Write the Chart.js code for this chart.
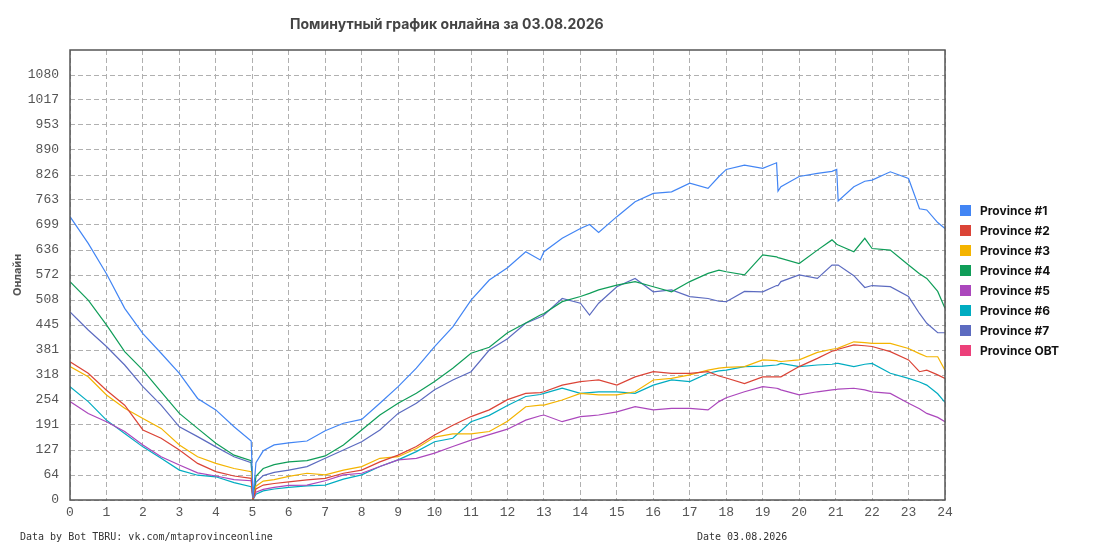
<!DOCTYPE html>
<html>
<head>
<meta charset="utf-8">
<script src="https://cdn.jsdelivr.net/npm/chart.js@4.4.1/dist/chart.umd.min.js"></script>
<style>
  body { margin: 0; background: #fff; }
  #wrap { position: relative; width: 1095px; height: 550px; }
  #chart { position: absolute; left: 0; top: 0; }
  .title { position: absolute; left: 290px; top: 15px; font: bold 14px Inter, sans-serif; color: #444; white-space: nowrap; }
  .item { position: absolute; left: 980px; font: bold 12px Inter, sans-serif; color: #111; white-space: nowrap; line-height: 14px; }
  .box { position: absolute; left: 960px; width: 11px; height: 11px; }
  .foot { position: absolute; top: 531px; font: 10px "DejaVu Sans Mono", monospace; color: #333; white-space: nowrap; }
</style>
</head>
<body>
<div id="wrap">
  <canvas id="chart" width="1095" height="550"></canvas>
  <div class="title">Поминутный график онлайна за 03.08.2026</div>
  <div id="legend"></div>
  <div class="foot" style="left: 20px;">Data by Bot TBRU: vk.com/mtaprovinceonline</div>
  <div class="foot" style="left: 697px;">Date 03.08.2026</div>
</div>
<script>
// time of day, hours
const hours = [0,0.5,1,1.5,2,2.5,3,3.5,4,4.5,4.97,5.02,5.1,5.3,5.6,6,6.5,7,7.5,8,8.5,9,9.5,10,10.5,
  11,11.5,12,12.5,12.9,13,13.5,14,14.25,14.5,15,15.5,16,16.5,17,17.5,17.8,18,18.5,19,
  19.38,19.42,19.5,20,20.5,20.9,21.03,21.07,21.5,21.8,22,22.5,23,23.3,23.5,23.8,24];

const p1 = [720,652,575,487,423,373,322,258,229,186, 150,5,95,125,140, 145,150,176,195,205,246,288,335,390,440,
  508,559,590,631,610, 631,665,690,700,680, 720,758,779,783,805, 792,822,840,851,843,
  857,785,796,822,830, 835,840,760,796,810, 813,834,817,740,737, 705,690];
const p2 = [351,322,279,241,178,157,127,93,72,61, 55,2,28,38,42, 46,51,55,68,76,97,114,136,165,190,
  212,229,255,271,273, 275,292,301,303,305, 292,313,326,322,322, 326,315,310,296,313,
  313,313,313,339,360, 378,381,383,394,392, 390,377,356,326,330, 318,309];
const p3 = [339,313,267,233,207,182,140,110,93,80, 72,2,35,48,52, 60,68,64,76,85,106,110,131,160,168,
  168,174,200,237,241, 241,254,271,269,267, 267,275,305,309,318, 330,335,337,339,356,
  354,353,352,356,375, 383,385,386,402,400, 398,398,385,372,364, 364,330];
const p4 = [555,508,445,377,330,275,220,182,144,114, 100,3,60,80,90, 97,100,112,140,178,216,246,271,301,335,
  373,388,425,450,470, 474,504,517,525,534, 546,555,542,529,555, 576,584,580,572,623,
  618,616,614,601,635, 661,650,648,631,665, 639,635,597,575,563, 530,487];
const p5 = [250,220,199,174,140,110,89,69,61,52, 49,1,20,27,32, 37,38,49,64,68,85,102,106,119,136,
  152,166,180,203,214, 216,199,212,214,216, 224,237,229,233,233, 229,250,260,275,288,
  284,283,280,267,275, 280,281,282,284,280, 275,271,246,232,220, 210,199];
const p6 = [288,250,203,169,135,106,76,63,59,44, 34,1,15,23,28, 32,36,38,53,64,85,102,123,148,157,
  199,215,240,263,268, 271,284,271,273,275, 275,271,292,305,301, 322,328,330,339,340,
  343,344,347,339,343, 345,347,347,339,345, 347,322,309,300,292, 270,248];
const p7 = [478,432,390,343,288,241,186,161,135,110, 95,3,45,62,70, 76,85,106,127,148,178,220,246,280,305,
  326,381,410,449,465, 470,512,500,470,500, 542,563,529,534,517, 512,505,504,530,529,
  545,545,555,572,563, 597,597,597,570,540, 545,542,517,474,449, 425,425];
const pOBT = [];

const names = ['Province #1','Province #2','Province #3','Province #4','Province #5','Province #6','Province #7','Province OBT'];
const colors = ['#4285F4','#DB4437','#F4B400','#0F9D58','#AB47BC','#00ACC1','#5C6BC0','#EC407A'];
const series = [p1, p2, p3, p4, p5, p6, p7, pOBT];

const xTicks = [0,1,2,3,4,5,6,7,8,9,10,11,12,13,14,15,16,17,18,19,20,21,22,23,24];
const yTickLabels = ['0','64','127','191','254','318','381','445','508','572','636','699','763','826','890','953','1017','1080'];
const STEP = 1080 / 17;

// legend
const legend = document.getElementById('legend');
names.forEach((n, i) => {
  const cy = 210.5 + i * 20;
  legend.insertAdjacentHTML('beforeend',
    `<div class="box" style="top:${cy - 5.5}px;background:${colors[i]}"></div>` +
    `<div class="item" style="top:${cy - 7}px">${n}</div>`);
});

const tickFont = { family: '"Liberation Mono", monospace', size: 13 };

const frame = {
  id: 'frame',
  afterDraw(c) {
    const { left, top, right, bottom } = c.chartArea;
    const g = c.ctx;
    g.save();
    g.strokeStyle = '#555';
    g.lineWidth = 1.5;
    g.strokeRect(left, top, right - left, bottom - top);
    g.restore();
  }
};

new Chart(document.getElementById('chart'), {
  type: 'line',
  data: {
    datasets: series.map((s, i) => ({
      label: names[i],
      data: s.map((v, j) => ({ x: hours[j], y: v })),
      borderColor: colors[i],
      backgroundColor: colors[i],
      borderWidth: 1.2,
      pointRadius: 0,
      fill: false,
      tension: 0
    }))
  },
  options: {
    responsive: false,
    animation: false,
    layout: { padding: { top: 50, right: 150, left: 0, bottom: 0 } },
    plugins: { legend: { display: false }, tooltip: { enabled: false } },
    scales: {
      x: {
        type: 'linear', min: 0, max: 24,
        afterBuildTicks: s => { s.ticks = xTicks.map(v => ({ value: v })); },
        afterFit: s => { s.height = 50; },
        ticks: { font: tickFont, color: '#555', padding: 5, maxRotation: 0, autoSkip: false, callback: v => String(v) },
        grid: { color: '#b0b0b0', drawTicks: false },
        border: { display: false, dash: [5, 3] }
      },
      y: {
        min: 0, max: STEP * 18,
        afterBuildTicks: s => { s.ticks = yTickLabels.map((t, k) => ({ value: k * STEP })); },
        afterFit: s => { s.width = 70; },
        ticks: { font: tickFont, color: '#555', padding: 11, autoSkip: false, callback: (v, i) => yTickLabels[i] },
        grid: { color: '#b0b0b0', drawTicks: false },
        border: { display: false, dash: [5, 3] },
        title: { display: true, text: 'Онлайн', color: '#555', font: { family: 'Inter', weight: 'bold', size: 11 }, padding: { top: 11, bottom: 0 } }
      }
    }
  },
  plugins: [frame]
});
</script>
</body>
</html>
